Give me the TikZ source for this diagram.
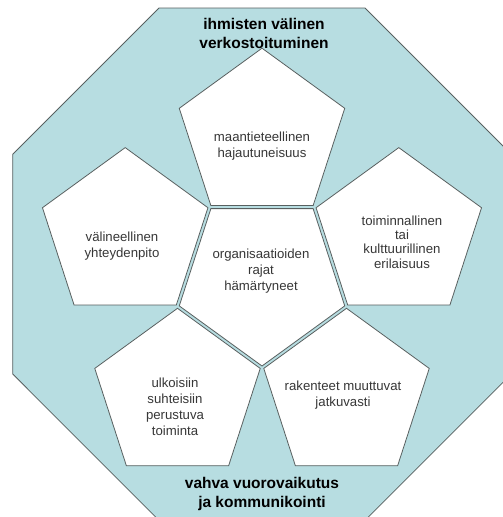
\documentclass[tikz,border=0pt]{standalone}
\usepackage{fontspec}
\setmainfont{Liberation Sans}
\usetikzlibrary{shapes.geometric}
\definecolor{tealfill}{RGB}{183,221,225}
\definecolor{edgegray}{RGB}{88,96,96}
\definecolor{txtgray}{RGB}{55,55,55}
\begin{document}
\begin{tikzpicture}[x=1pt,y=-1pt,
 pent/.style={regular polygon, regular polygon sides=5, minimum size=174pt, inner sep=0pt, outer sep=0pt, draw=edgegray, fill=white, line width=0.8pt},
 invpent/.style={pent, shape border rotate=180},
 lbl/.style={font=\fontsize{13.2}{16}\selectfont, text=txtgray, align=center, inner sep=0pt},
 ttl/.style={font=\fontsize{15.5}{19}\selectfont\bfseries, text=black, align=center, inner sep=0pt}]
\useasboundingbox (0,0) rectangle (503,517);
\begin{scope}
\clip (0,0) rectangle (503,517);
\draw[fill=tealfill, draw=edgegray, line width=0.8pt]
  (159,8) -- (365,8) -- (511.3,154.3) -- (511.3,374) -- (365,520.4) -- (159,520.4) -- (12.7,374) -- (12.7,154.3) -- cycle;
\end{scope}
% pentagons
\node[invpent] (pc) at (262,279) {};
\node[pent] (pt) at (262,135.2) {};
\node[pent] (pl) at (125.2,234.6) {};
\node[pent] (pr) at (398.8,234.6) {};
\node[pent] (pbl) at (177.5,395.3) {};
\node[pent] (pbr) at (346.5,395.3) {};
% titles
\node[ttl] (ttop) at (264,33) {ihmisten välinen\\verkostoituminen};
\node[ttl] (tbot) at (262,494) {vahva vuorovaikutus\\ja kommunikointi};
% labels
\node[lbl] (lt) at (262,146.5) {maantieteellinen\\hajautuneisuus};
\node[lbl] (ll) at (122,246.5) {välineellinen\\yhteydenpito};
\node[lbl, font=\fontsize{13.2}{14.3}\selectfont] (lr) at (402,242) {toiminnallinen\\tai\\kulttuurillinen\\erilaisuus};
\node[lbl] (lc) at (261,271.5) {organisaatioiden\\rajat\\hämärtyneet};
\node[lbl] (lbl1) at (175,406.5) {ulkoisiin\\suhteisiin\\perustuva\\toiminta};
\node[lbl] (lbr) at (343,395.5) {rakenteet muuttuvat\\jatkuvasti};
\end{tikzpicture}
\end{document}
